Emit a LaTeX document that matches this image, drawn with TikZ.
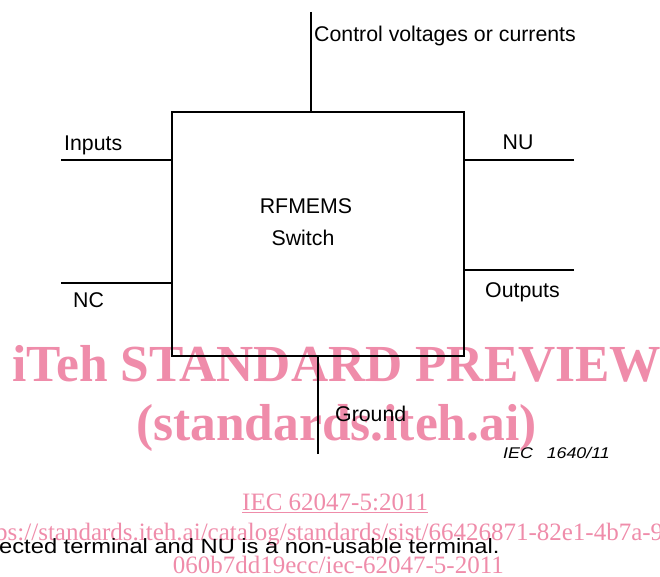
\documentclass[tikz,border=0pt]{standalone}
\usepackage{fontspec}
\setmainfont{Liberation Sans}
\newfontfamily\wmserif{Liberation Serif}
\definecolor{wmpink}{RGB}{239,140,170}
\usetikzlibrary{positioning,calc}

\begin{document}
\begin{tikzpicture}[x=1pt,y=-1pt,
        lead/.style={line width=1.4pt},
        termlabel/.style={anchor=base west, inner sep=0pt, font=\fontsize{21.3}{25}\selectfont},
        wmbold/.style={anchor=base west, inner sep=0pt, text=wmpink, font=\wmserif\bfseries\fontsize{52}{56}\selectfont, xscale=0.99},
        wmplain/.style={anchor=base west, inner sep=0pt, text=wmpink, font=\wmserif\fontsize{25}{28}\selectfont}]
            \useasboundingbox (0,0) rectangle (660,577);
            \clip (0,0) rectangle (660,577);
            \node[wmbold] (wmtitle) at (12,381.5) {iTeh STANDARD PREVIEW};
            \node[wmbold] (wmsite) at (136,440) {(standards.iteh.ai)};
            \node[wmplain] (iecnum) at (242,510) {IEC 62047-5:2011};
            \draw[wmpink, line width=1.2pt] ([yshift=-2.5pt]iecnum.base west) -- ([yshift=-2.5pt]iecnum.base east);
            \node[wmplain] (wmurl) at (-5,540) {ps://standards.iteh.ai/catalog/standards/sist/66426871-82e1-4b7a-97};
            \node[wmplain, anchor=base east] (wmdoc) at (504,573) {060b7dd19ecc/iec-62047-5-2011};
            \node[draw, line width=1.9pt, minimum width=292pt, minimum height=244pt, inner sep=0pt] (sw) at (318,234) {};
            \node[termlabel, anchor=base] (swtype) at (306,213) {RFMEMS};
            \node[termlabel, anchor=base] (swkind) at (303,245.7) {Switch};
            \coordinate (ctrlend) at (311,12);
            \coordinate (inend) at (61,160);
            \coordinate (ncend) at (61,283);
            \coordinate (nuend) at (574,160);
            \coordinate (outend) at (574,270);
            \coordinate (gndend) at (318,454);
            \draw[lead] (ctrlend) -- (ctrlend |- sw.north);
            \draw[lead] (inend) -- (inend -| sw.west);
            \draw[lead] (ncend) -- (ncend -| sw.west);
            \draw[lead] (nuend) -- (nuend -| sw.east);
            \draw[lead] (outend) -- (outend -| sw.east);
            \draw[lead] (gndend) -- (gndend |- sw.south);
            \node[termlabel] (ctrltext) at (314,41.5) {Control voltages or currents};
            \node[termlabel] (intext) at (64,151) {Inputs};
            \node[termlabel] (nctext) at (73,307) {NC};
            \node[termlabel] (nutext) at (502.5,150) {NU};
            \node[termlabel] (outtext) at (485,297) {Outputs};
            \node[termlabel] (gndtext) at (335,421.5) {Ground};
            \node[anchor=base west, inner sep=0pt, font=\itshape\fontsize{15.5}{18}\selectfont, xscale=1.15] (figref) at (503,458) {IEC\hspace{12pt}1640/11};
            \node[anchor=base west, inner sep=0pt, font=\fontsize{20.6}{24}\selectfont, xscale=1.15] (notetext) at (-1,553) {ected terminal and NU is a non-usable terminal.};
        \end{tikzpicture}
\end{document}
